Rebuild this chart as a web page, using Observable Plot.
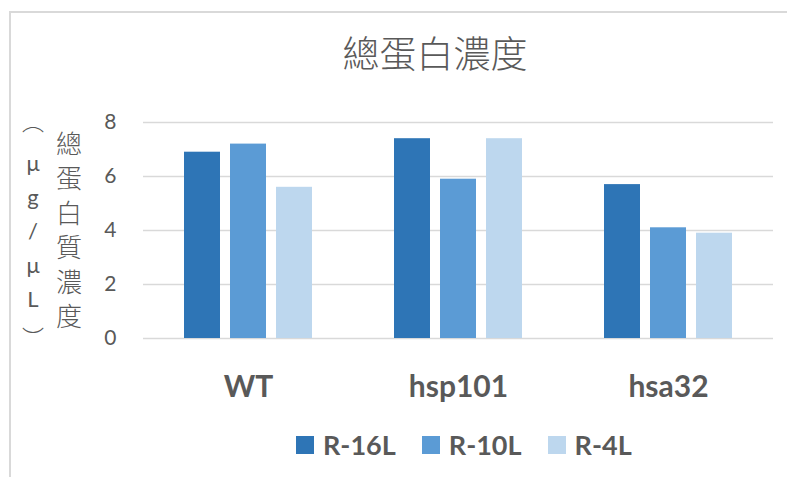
<!DOCTYPE html>
<html>
<head>
<meta charset="utf-8">
<script src="https://cdn.jsdelivr.net/npm/d3@7"></script>
<script src="https://cdn.jsdelivr.net/npm/@observablehq/plot@0.6"></script>
<style>
  html, body { margin: 0; padding: 0; background: #fff; }
  #wrap { position: relative; width: 787px; height: 477px; overflow: hidden; font-family: Lato, "Noto Sans CJK TC", sans-serif; color: #595959; }
  #border { position: absolute; left: 9px; top: 11px; width: 900px; height: 600px; border-left: 2px solid #d9d9d9; border-top: 2px solid #d9d9d9; box-sizing: border-box; }
  #title { position: absolute; left: 235px; width: 400px; top: 30px; text-align: center; font-family: "Noto Sans CJK TC", sans-serif; font-weight: 300; font-size: 37px; line-height: 44px; color: #595959; }
  .col { position: absolute; display: flex; flex-direction: column; align-items: center; }
  .col div { height: 34.4px; line-height: 34.4px; text-align: center; }
  #ycjk { left: 52px; width: 34px; top: 126px; font-family: "Noto Sans CJK TC", sans-serif; font-weight: 300; font-size: 26px; }
  #yunit { left: 18px; width: 30px; top: 112px; font-family: Lato, "Noto Sans CJK TC", sans-serif; font-size: 22px; }
  #yunit div { height: 34px; line-height: 34px; position: relative; }
  #yunit .p { font-family: "Noto Sans CJK TC", sans-serif; font-weight: 300; }
  #yunit .p0 { top: -9px; }
  #yunit .p1 { top: 3px; }
  #legend { position: absolute; left: 296px; top: 428px; display: flex; align-items: center; font-family: Lato, sans-serif; font-weight: bold; font-size: 27px; line-height: 34px; color: #595959; }
  #legend .sw { width: 18px; height: 18px; margin-right: 9px; }
  #legend .it { display: flex; align-items: center; margin-right: 26px; }
  #chart { position: absolute; left: 0; top: 0; }
</style>
</head>
<body>
<div id="wrap">
  <div id="border"></div>
  <div id="chart"></div>
  <div id="title"></div>
  <div id="yunit" class="col"></div>
  <div id="ycjk" class="col"></div>
  <div id="legend"></div>
</div>
<script>
const title = "總蛋白濃度";
const yLabel = "總蛋白質濃度";
const yUnit = ["︵", "μ", "g", "/", "μ", "L", "︶"];
const categories = ["WT", "hsp101", "hsa32"];
const series = ["R-16L", "R-10L", "R-4L"];
const r16 = [6.9, 7.4, 5.7];
const r10 = [7.2, 5.9, 4.1];
const r4 = [5.6, 7.4, 3.9];
const yTicks = [0, 2, 4, 6, 8];
const colors = ["#2E75B6", "#5B9BD5", "#BDD7EE"];

const seriesValues = [r16, r10, r4];
const data = [];
categories.forEach((c, i) => {
  series.forEach((s, j) => {
    data.push({group: c, series: s, value: seriesValues[j][i]});
  });
});

const plot = Plot.plot({
  width: 787,
  height: 420,
  marginLeft: 142,
  marginRight: 13,
  marginTop: 122,
  marginBottom: 82,
  style: {fontFamily: "Lato, 'Noto Sans CJK TC', sans-serif", color: "#595959", background: "transparent", overflow: "visible"},
  fx: {domain: categories, padding: 0, axis: null},
  x: {domain: series, paddingInner: 0.21, paddingOuter: 0.845, axis: null},
  y: {domain: [0, 8], axis: null},
  color: {domain: series, range: colors},
  marks: [
    Plot.gridY(yTicks, {stroke: "#d9d9d9", strokeOpacity: 1, strokeWidth: 1.5}),
    Plot.barY(data, {fx: "group", x: "series", y: "value", fill: "series"}),
    Plot.axisY({ticks: yTicks, tickSize: 0, tickPadding: 27, fontSize: 21, label: null, fill: "#595959"}),
    Plot.axisFx({anchor: "bottom", tickSize: 0, tickPadding: 37, fontSize: 30, fontWeight: "bold", label: null, fill: "#595959"})
  ]
});
document.getElementById("chart").appendChild(plot);

document.getElementById("title").textContent = title;
const ycjk = document.getElementById("ycjk");
for (const ch of yLabel) { const d = document.createElement("div"); d.textContent = ch; ycjk.appendChild(d); }
const yunit = document.getElementById("yunit");
yUnit.forEach((ch, i) => {
  const d = document.createElement("div"); d.textContent = ch;
  if (i === 0) d.className = "p p0";
  if (i === yUnit.length - 1) d.className = "p p1";
  yunit.appendChild(d);
});
const legend = document.getElementById("legend");
series.forEach((s, i) => {
  const it = document.createElement("div"); it.className = "it";
  const sw = document.createElement("div"); sw.className = "sw"; sw.style.background = colors[i];
  const t = document.createElement("span"); t.textContent = s;
  it.appendChild(sw); it.appendChild(t); legend.appendChild(it);
});
</script>
</body>
</html>
